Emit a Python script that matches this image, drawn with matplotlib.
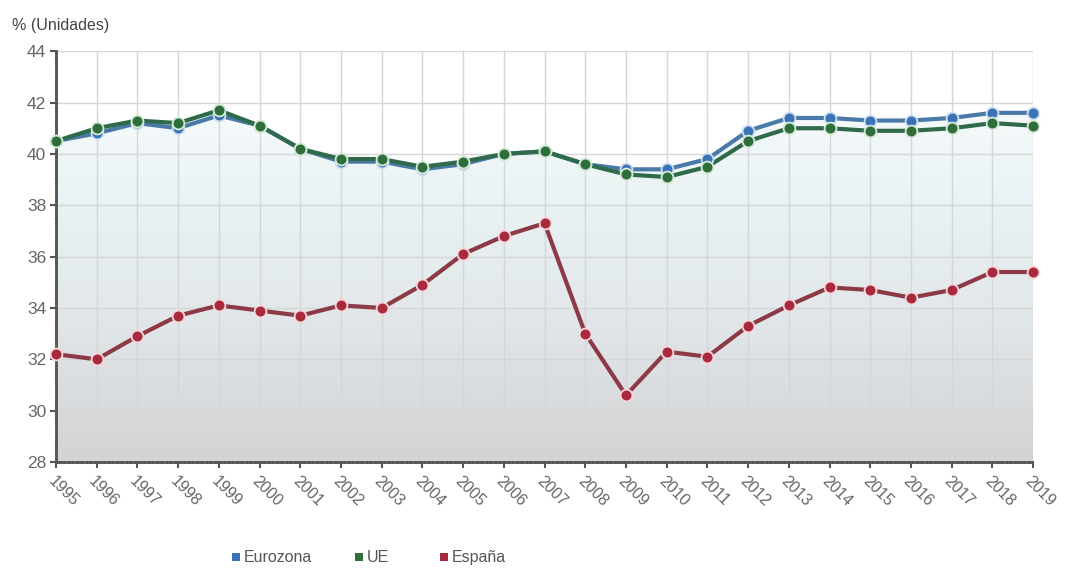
import numpy as np
import matplotlib
matplotlib.use("Agg")
import matplotlib.pyplot as plt
from matplotlib.colors import LinearSegmentedColormap
from matplotlib.patches import Rectangle

years = list(range(1995, 2020))
eurozona = [40.5, 40.8, 41.2, 41.0, 41.5, 41.1, 40.2, 39.7, 39.7, 39.4, 39.6, 40.0, 40.1,
            39.6, 39.4, 39.4, 39.8, 40.9, 41.4, 41.4, 41.3, 41.3, 41.4, 41.6, 41.6]
ue = [40.5, 41.0, 41.3, 41.2, 41.7, 41.1, 40.2, 39.8, 39.8, 39.5, 39.7, 40.0, 40.1,
      39.6, 39.2, 39.1, 39.5, 40.5, 41.0, 41.0, 40.9, 40.9, 41.0, 41.2, 41.1]
espana = [32.2, 32.0, 32.9, 33.7, 34.1, 33.9, 33.7, 34.1, 34.0, 34.9, 36.1, 36.8, 37.3,
          33.0, 30.6, 32.3, 32.1, 33.3, 34.1, 34.8, 34.7, 34.4, 34.7, 35.4, 35.4]
series_names = ["Eurozona", "UE", "España"]

plt.rcParams['font.family'] = ['Liberation Sans', 'DejaVu Sans']

fig = plt.figure(figsize=(10.69, 5.69), dpi=100)
ax = fig.add_axes([0.0524, 0.188, 0.914, 0.722])
ax.set_xlim(1995, 2019)
ax.set_ylim(28, 44)

# gradient area under the upper envelope
top = np.maximum(eurozona, ue)
grad = LinearSegmentedColormap.from_list(
    "bg", [(0.0, "#d3d3d5"), (0.45, "#e3e9eb"), (0.75, "#eaf3f5"), (1.0, "#f7fafb")])
img = ax.imshow(np.linspace(0, 1, 256).reshape(-1, 1), cmap=grad, origin="lower",
                extent=[1995, 2019, 28, 42], aspect="auto", zorder=0)
area = ax.fill_between(years, 28, top, facecolor="none", edgecolor="none")
img.set_clip_path(area.get_paths()[0], transform=ax.transData)

ax.set_xticks(years)
ax.set_yticks(range(28, 45, 2))
ax.grid(True, color="#d4d6d8", linewidth=1, zorder=1)
ax.set_axisbelow(True)

styles = [
    (eurozona, "#4a7aa8", "#3a73b8", "#cfe0f0"),
    (ue, "#2f6a4a", "#2d6e3a", "#d6ead8"),
    (espana, "#8c3a46", "#a82a3c", "#f6d8dc"),
]
for vals, lc, mc, ec in styles:
    ax.plot(years, vals, color=lc, linewidth=3, zorder=3, clip_on=False)
    ax.plot(years, vals, linestyle="none", marker="o", markersize=8.5,
            markerfacecolor=mc, markeredgecolor=ec, markeredgewidth=1.3,
            zorder=4, clip_on=False)

for side in ("top", "right"):
    ax.spines[side].set_visible(False)
for side in ("left", "bottom"):
    ax.spines[side].set_color("#555555")
    ax.spines[side].set_linewidth(2)
    ax.spines[side].set_linestyle((0, (1, 0.6)))

ax.tick_params(axis="both", colors="#555555", length=4, width=1.5, labelcolor="#666666")
ax.tick_params(axis="y", labelsize=12.5, pad=3)
ax.tick_params(axis="x", labelsize=11.5, pad=4)
for lbl in ax.get_xticklabels():
    lbl.set_rotation(-45)
    lbl.set_ha("left")
    lbl.set_va("top")
    lbl.set_rotation_mode("anchor")

fig.text(0.011, 0.955, "% (Unidades)", fontsize=11.5, color="#444444", va="center")

# legend row
leg_x = [0.2166, 0.332, 0.4115]
leg_colors = ["#3a73b8", "#2d6e3a", "#a82a3c"]
for x, c, name in zip(leg_x, leg_colors, series_names):
    fig.patches.append(Rectangle((x, 0.014), 0.0075, 0.0135, transform=fig.transFigure,
                                 facecolor=c, edgecolor="none"))
    fig.text(x + 0.011, 0.021, name, fontsize=11.5, color="#555555", va="center")

fig.savefig("out.png", dpi=100)
